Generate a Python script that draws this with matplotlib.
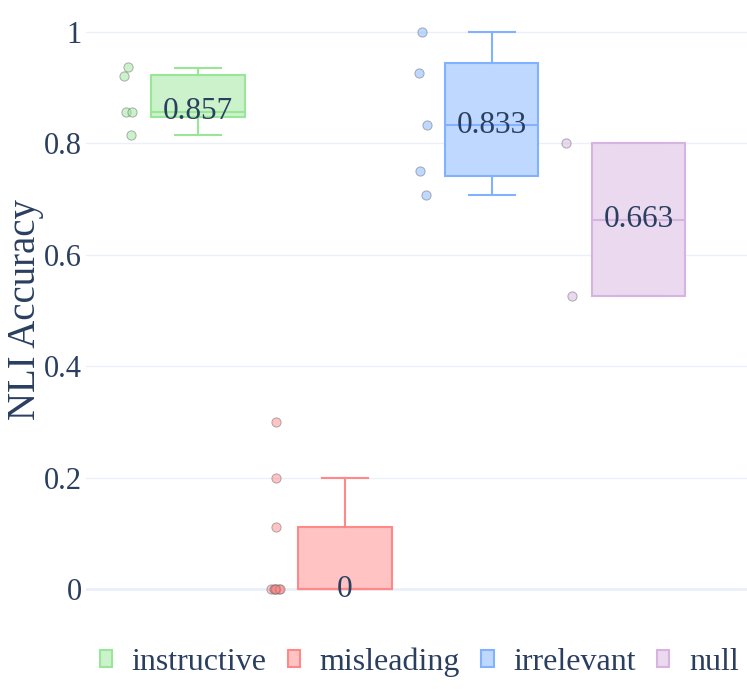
import matplotlib

matplotlib.use("Agg")
import matplotlib.pyplot as plt
from matplotlib.patches import Patch

plt.rcParams["font.family"] = ["Liberation Serif", "DejaVu Serif"]

TEXT = "#2a3f5f"
GRID = "#ebf0f8"

groups = ["instructive", "misleading", "irrelevant", "null"]
line_colors = ["#98e698", "#ff8888", "#80b2ff", "#d6b3e0"]
fill_colors = ["#cbf2cb", "#ffc3c3", "#bfd8ff", "#ead9ef"]

# box stats: whislo, q1, median, q3, whishi
whislo = [0.815, 0.0, 0.708, 0.527]
q1 = [0.848, 0.0, 0.741, 0.527]
median = [0.857, 0.0, 0.833, 0.663]
q3 = [0.923, 0.111, 0.944, 0.800]
whishi = [0.936, 0.200, 1.000, 0.800]

# raw points shown left of each box
pts_instructive = [0.938, 0.921, 0.857, 0.857, 0.815]
pts_misleading = [0.3, 0.2, 0.111, 0.0, 0.0, 0.0, 0.0, 0.0, 0.0]
pts_irrelevant = [1.0, 0.926, 0.833, 0.75, 0.708]
pts_null = [0.8, 0.527]
points = [pts_instructive, pts_misleading, pts_irrelevant, pts_null]

# horizontal jitter of the points (relative to the box centre)
jitter = [
    [-0.478, -0.503, -0.492, -0.451, -0.456],
    [-0.471, -0.471, -0.469, -0.5, -0.485, -0.469, -0.452, -0.44, -0.478],
    [-0.476, -0.495, -0.444, -0.49, -0.451],
    [-0.495, -0.458],
]

fig = plt.figure(figsize=(7.47, 6.89), dpi=100)
ax = fig.add_axes([0.1151, 0.1045, 0.8849, 0.8935])

for i, g in enumerate(groups):
    stats = [dict(whislo=whislo[i], q1=q1[i], med=median[i], q3=q3[i],
                  whishi=whishi[i], fliers=[])]
    lc = line_colors[i]
    ax.bxp(stats, positions=[i], widths=0.633, capwidths=0.313,
           showfliers=False, patch_artist=True,
           boxprops=dict(facecolor=fill_colors[i], edgecolor=lc, linewidth=1.5),
           medianprops=dict(color=lc, linewidth=1.5),
           whiskerprops=dict(color=lc, linewidth=1.5),
           capprops=dict(color=lc, linewidth=1.5), zorder=3)
    xs = [i + j for j in jitter[i]]
    ax.scatter(xs, points[i], s=44, color=lc, alpha=0.5,
               edgecolors="#666666", linewidths=0.7, zorder=4)
    ax.text(i, median[i], f"{median[i]:g}", ha="center", va="center",
            fontsize=22.5, color=TEXT, zorder=5)

ax.set_xlim(-0.762, 3.735)
ax.set_ylim(-0.05, 1.055)
ax.set_xticks([])
ax.set_yticks([0, 0.2, 0.4, 0.6, 0.8, 1.0])
ax.set_yticklabels(["0", "0.2", "0.4", "0.6", "0.8", "1"])
ax.tick_params(axis="y", length=0, pad=3, labelsize=22, labelcolor=TEXT)
ax.grid(axis="y", color=GRID, linewidth=1)
ax.axhline(0, color=GRID, linewidth=2, zorder=0)
ax.set_axisbelow(True)
for s in ax.spines.values():
    s.set_visible(False)

ax.set_ylabel("NLI Accuracy", fontsize=28, color=TEXT, va="center")
ax.yaxis.set_label_coords(-0.091, 0.5)

handles = [Patch(facecolor=fill_colors[i], edgecolor=line_colors[i], linewidth=1.5)
           for i in range(len(groups))]
fig.legend(handles, groups, loc="center", bbox_to_anchor=(0.561, 0.039),
           ncol=4, frameon=False, fontsize=23, labelcolor=TEXT,
           handlelength=0.4, handleheight=0.4, handletextpad=0.61,
           columnspacing=0.65, borderaxespad=0)

fig.savefig("out.png", dpi=100)
